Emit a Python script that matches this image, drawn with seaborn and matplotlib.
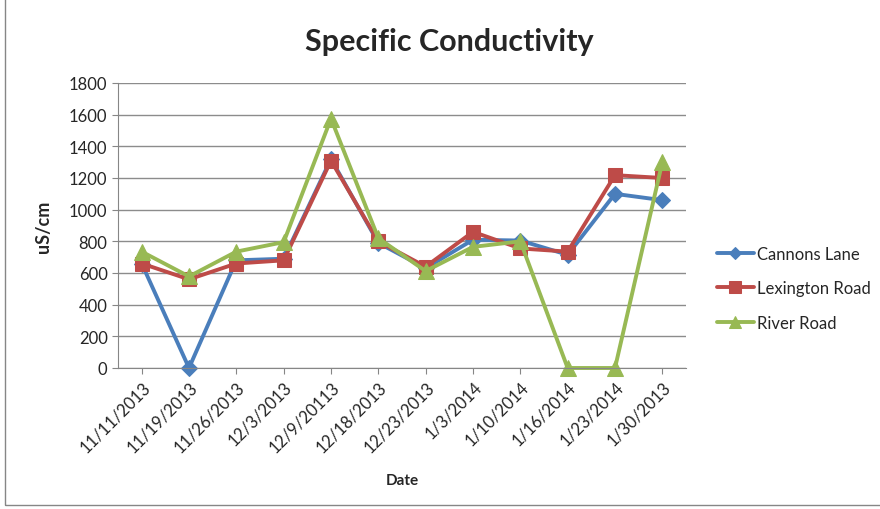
import numpy as np
import pandas as pd
import matplotlib
matplotlib.use("Agg")
import matplotlib.pyplot as plt
import seaborn as sns
from matplotlib.patches import Rectangle

dates = ["11/11/2013", "11/19/2013", "11/26/2013", "12/3/2013", "12/9/20113",
         "12/18/2013", "12/23/2013", "1/3/2014", "1/10/2014", "1/16/2014",
         "1/23/2014", "1/30/2013"]
cannons = [660, 0, 680, 690, 1320, 790, 630, 810, 805, 715, 1100, 1060]
lexington = [660, 560, 660, 680, 1310, 800, 640, 860, 755, 735, 1218, 1200]
river = [735, 578, 735, 795, 1575, 820, 612, 765, 800, 0, 0, 1300]

names = ["Cannons Lane", "Lexington Road", "River Road"]
colors = ["#4A7EBB", "#BE4B48", "#98B954"]
markers = ["D", "s", "^"]
sizes = [8, 10, 11]

rows = []
for name, vals in zip(names, [cannons, lexington, river]):
    for i, v in enumerate(vals):
        rows.append({"idx": i, "value": v, "site": name})
df = pd.DataFrame(rows)

sns.set_style("white")
plt.rcParams["font.family"] = ["Lato", "DejaVu Sans"]

fig = plt.figure(figsize=(8.8, 5.1), dpi=100)
ax = fig.add_axes([118 / 880, 141 / 510, 568 / 880, 285 / 510])

for name, c, m, s in zip(names, colors, markers, sizes):
    sns.lineplot(data=df[df.site == name], x="idx", y="value", ax=ax,
                 color=c, marker=m, markersize=s, markeredgecolor=c,
                 linewidth=2.8, label=name, clip_on=False)

ax.set_xlim(-0.5, len(dates) - 0.5)
ax.set_ylim(0, 1800)
ax.set_yticks(np.arange(0, 1801, 200))
ax.set_xticks(range(len(dates)))
ax.set_xticklabels(dates, rotation=45, ha="right", rotation_mode="anchor", fontsize=12)
ax.tick_params(axis="y", labelsize=12, length=4, color="#868686", left=True)
ax.tick_params(axis="x", length=4, color="#868686", bottom=True)
ax.yaxis.grid(True, color="#8C8C8C", linewidth=1)
ax.set_axisbelow(True)
for sp in ["top", "right"]:
    ax.spines[sp].set_visible(False)
for sp in ["left", "bottom"]:
    ax.spines[sp].set_color("#868686")

ax.set_xlabel("Date", fontsize=11, fontweight="bold", labelpad=13)
ax.set_ylabel("uS/cm", fontsize=13, fontweight="bold", labelpad=12)
fig.text(449 / 880, 1 - 42 / 510, "Specific Conductivity", fontsize=22,
         fontweight="bold", ha="center", va="center")

ax.legend(loc="center left", bbox_to_anchor=(1.028, 0.28), frameon=False,
          fontsize=12, handlelength=2.2, labelspacing=1.1, handletextpad=0.2,
          markerscale=0.8)

fig.patches.append(Rectangle((5 / 880, 4 / 510), 1.2, 1.2, transform=fig.transFigure,
                             fill=False, edgecolor="#868686", linewidth=1))

fig.savefig("out.png", dpi=100)
